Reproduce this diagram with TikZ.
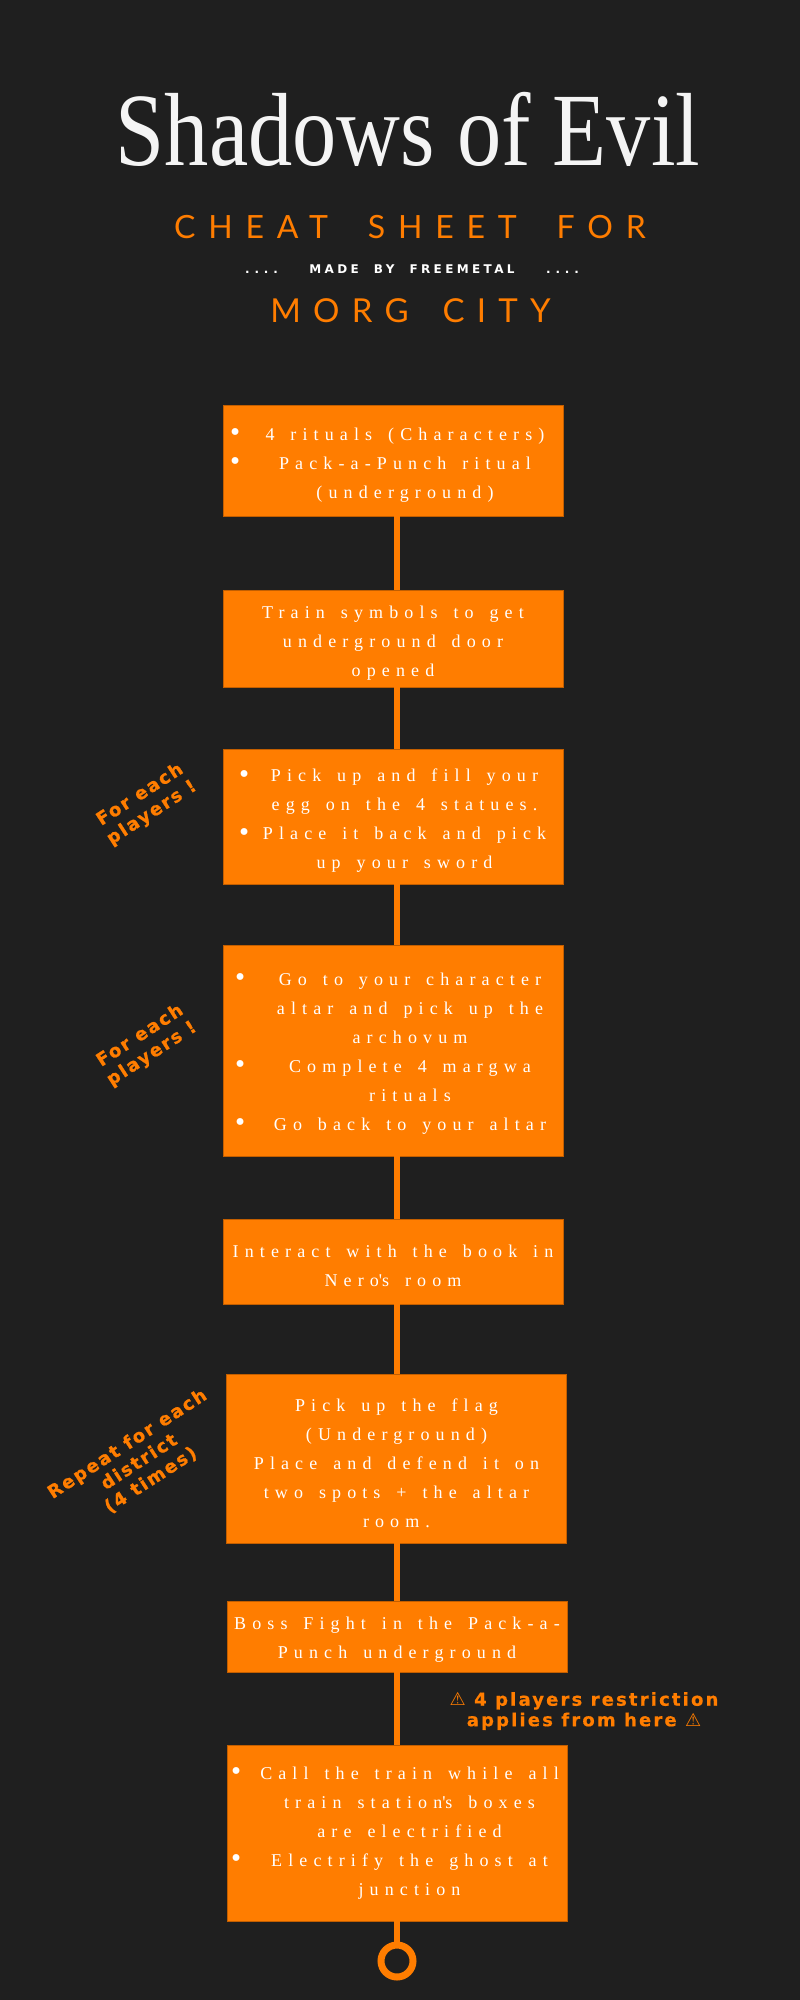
\documentclass[tikz,border=0pt]{standalone}
\usepackage{fontspec}
\usepackage{graphicx}
\usepackage{xcolor}
\usepackage{tikz}
\setmainfont{Liberation Serif}
\newfontfamily\boxserif{Liberation Serif}[LetterSpace=34,WordSpace=1.5]
\newfontfamily\headsans{Lato}[LetterSpace=40,WordSpace=1.9]
\newfontfamily\citysans{Lato}[LetterSpace=37,WordSpace=1.65]
\newfontfamily\bysans{DejaVu Sans}[LetterSpace=28,WordSpace=2]
\newfontfamily\dotsans{DejaVu Sans}[LetterSpace=40]
\newfontfamily\notesans{DejaVu Sans}[LetterSpace=11,FakeBold=1]
\newfontfamily\warnsans{DejaVu Sans}[LetterSpace=12,FakeBold=0.6]
\newfontfamily\warnsym{DejaVu Sans}
\definecolor{bgdark}{HTML}{1F1F1F}
\definecolor{evilorange}{HTML}{FF7D00}
\definecolor{boxedge}{HTML}{C25E00}
\definecolor{titlewhite}{HTML}{F4F4F4}
\newlength\bulw
\newlength\txtw
\newcommand\topstrut[1][21pt]{\rule{0pt}{#1}}
\newcommand\bigbul{\raisebox{-1.6pt}{\scalebox{1.6}{\textbullet}}}
\newcommand\itm[1]{\makebox[\bulw][l]{\bigbul}\makebox[\txtw]{#1}}
\newcommand\cnt[1]{\makebox[\bulw]{}\makebox[\txtw]{#1}}
\tikzset{
  stepbox/.style={rectangle, fill=evilorange, draw=boxedge, line width=0.8pt,
    minimum width=340pt, inner sep=0pt, align=center, text=white,
    font=\boxserif\fontsize{18}{29}\selectfont},
  bullets/.code 2 args={\setlength{\bulw}{#1}\setlength{\txtw}{#2}},
  spine/.style={evilorange, line width=6pt},
  sidenote/.style={text=evilorange, align=center, rotate=33,
    font=\notesans\bfseries\fontsize{18}{21.5}\selectfont},
  warnnote/.style={text=evilorange, align=center,
    font=\warnsans\bfseries\fontsize{18}{20.5}\selectfont},
  headline/.style={anchor=base, text=evilorange, font=\headsans\fontsize{32}{32}\selectfont},
  byline/.style={anchor=base, text=white, font=\bysans\bfseries\fontsize{12}{12}\selectfont}
}

\begin{document}
\begin{tikzpicture}[x=1pt,y=-1pt]
\path[use as bounding box, fill=bgdark] (0,0) rectangle (800,2000);

\node[anchor=base, text=titlewhite, font=\fontsize{104}{104}\selectfont] (title) at (408,165)
  {\scalebox{0.85}[1]{Shadows of Evil}};
\node[headline] (cheat) at (410,238) {CHEAT SHEET FOR};
\node[byline] (madeby) at (412,273) {MADE BY FREEMETAL};
\node[byline, font=\dotsans\bfseries\fontsize{12}{12}\selectfont] (dotsl) at (261.5,273) {....};
\node[byline, font=\dotsans\bfseries\fontsize{12}{12}\selectfont] (dotsr) at (562.5,273) {....};
\node[headline, font=\citysans\fontsize{33}{33}\selectfont] (city) at (410.5,322) {MORG CITY};

\coordinate (spinex) at (397,0);

\node[stepbox, minimum height=111pt, bullets={24pt}{302pt}] (b1) at (393,460.5)
  {\topstrut\itm{4 rituals (Characters)}\\\itm{Pack-a-Punch ritual}\\\cnt{(underground)}};
\node[stepbox, minimum height=97pt] (b2) at (393,638.5)
  {\topstrut Train symbols to get\\underground door\\opened};
\node[stepbox, minimum height=135pt, bullets={23pt}{285pt}] (b3) at (393,816.5)
  {\topstrut\itm{Pick up and fill your}\\\cnt{egg on the 4 statues.}\\\itm{Place it back and pick}\\\cnt{up your sword}};
\node[stepbox, minimum height=211pt, bullets={34pt}{282pt}] (b4) at (393,1050.5)
  {\topstrut[18pt]\itm{Go to your character}\\\cnt{altar and pick up the}\\\cnt{archovum}\\\itm{Complete 4 margwa}\\\cnt{rituals}\\\itm{Go back to your altar}};
\node[stepbox, minimum height=85pt] (b5) at (393,1261.5)
  {\topstrut Interact with the book in\\Nero\textquotesingle s room};
\node[stepbox, minimum height=169pt] (b6) at (396.5,1458.5)
  {\topstrut[23pt]Pick up the flag\\(Underground)\\Place and defend it on\\two spots + the altar\\room.};
\node[stepbox, minimum height=71pt] (b7) at (397,1636.5)
  {\topstrut[18pt]Boss Fight in the Pack-a-\\Punch underground};
\node[stepbox, minimum height=176pt, bullets={25pt}{307pt}] (b8) at (397,1833)
  {\itm{Call the train while all}\\\cnt{train station\textquotesingle s boxes}\\\cnt{are electrified}\\\itm{Electrify the ghost at}\\\cnt{junction}};
\node[circle, draw=evilorange, line width=7pt, fill=bgdark, minimum size=32pt, inner sep=0pt] (end) at (397,1961) {};

\foreach \a/\b in {b1/b2,b2/b3,b3/b4,b4/b5,b5/b6,b6/b7,b7/b8,b8/end}
  \draw[spine] (\a.south -| spinex) -- (\b.north -| spinex);

\node[sidenote] (note1) at (146,804) {For each\\players !};
\node[sidenote] (note2) at (146,1045) {For each\\players !};
\node[sidenote] (note3) at (139,1462) {Repeat for each\\district\\(4 times)};
\node[warnnote] (warn) at (584,1711)
  {{\warnsym ⚠} 4 players restriction\\applies from here {\warnsym ⚠}};
\end{tikzpicture}
\end{document}
